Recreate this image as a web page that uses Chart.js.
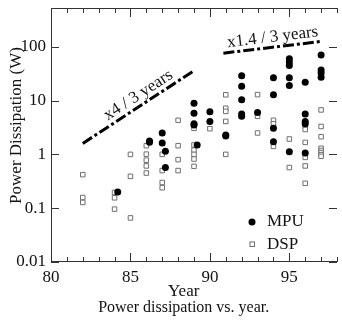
<!DOCTYPE html>
<html>
<head>
<meta charset="utf-8">
<script src="https://cdn.jsdelivr.net/npm/chart.js@4/dist/chart.umd.min.js"></script>
<style>
  html, body { margin: 0; padding: 0; background: #fff; }
</style>
</head>
<body>
<canvas id="chart" width="342" height="320"></canvas>
<script>
// MPU (filled circles)
const mpuYear  = [84.2, 86.2, 86.2, 87, 87, 87.2, 87.2, 89, 89, 89, 89, 89.2, 90, 90, 91, 91,
                  92, 92, 92, 92, 92, 93, 94, 94, 94, 94, 95, 95, 95, 95, 95, 95,
                  96, 96, 96, 96, 96, 97, 97, 97, 97];
const mpuPower = [0.2, 1.68, 1.78, 2.5, 1.62, 1.14, 0.57, 8.9, 5.8, 3.7, 3.5, 1.49, 6.2, 4.1, 2.29, 2.2,
                  29, 18.5, 10.4, 5.6, 5.1, 6.0, 26.5, 12.8, 3.05, 1.72, 60, 52, 45, 26.5, 19, 1.12,
                  22, 5.6, 4.1, 3.7, 1.06, 70, 37, 32.5, 27.2];

// DSP (open squares)
const dspYear  = [82, 82, 82, 84, 84, 84, 85, 85, 85, 86, 86, 86, 86, 86, 87, 87, 87, 87,
                  88, 88, 88, 88, 89, 89, 89, 89, 89, 89, 90, 91, 91, 91, 91, 91,
                  93, 93, 93, 94, 94, 94, 95, 95, 96, 96, 96, 96, 96, 96,
                  97, 97, 97, 97, 97, 97, 97, 97];
const dspPower = [0.42, 0.158, 0.128, 0.196, 0.156, 0.096, 1.0, 0.39, 0.066, 1.45, 1.01, 0.78, 0.61, 0.45,
                  1.0, 0.5, 0.3, 0.24, 4.3, 1.45, 0.8, 0.5, 3.05, 1.5, 1.2, 1.0, 0.82, 0.6, 3.0,
                  12.8, 7.2, 6.3, 4.1, 1.0, 12.9, 5.1, 2.5, 4.3, 3.7, 1.41, 1.93, 0.57,
                  3.4, 2.9, 1.67, 0.88, 0.61, 0.29, 6.7, 3.3, 2.13, 1.3, 1.18, 1.08, 0.99, 0.92];

// trend lines
const trend4Year   = [82, 89];
const trend4Power  = [1.6, 36];
const trend14Year  = [90.85, 96.95];
const trend14Power = [76, 125];

const xTickValues = [80, 85, 90, 95];
const yTickValues = [0.01, 0.1, 1, 10, 100];

const serif = "'Liberation Serif', 'Times New Roman', serif";
const pts = (xs, ys) => xs.map((x, i) => ({ x: x, y: ys[i] }));

// frame with inward ticks, texts, legend
const decorations = {
  id: 'decorations',
  afterDraw(chart) {
    const { ctx, chartArea: a, scales: { x, y } } = chart;
    ctx.save();
    ctx.strokeStyle = '#333';
    ctx.lineWidth = 1;
    ctx.beginPath();
    ctx.moveTo(a.right + 1, a.top + 0.5);
    ctx.lineTo(a.left + 0.5, a.top + 0.5);
    ctx.lineTo(a.left + 0.5, a.bottom - 0.5);
    ctx.lineTo(a.right + 1, a.bottom - 0.5);
    for (let yr = 80; yr <= 98; yr++) {
      const px = Math.round(x.getPixelForValue(yr)) + 0.5;
      const len = yr % 5 === 0 ? 9 : 5;
      ctx.moveTo(px, a.bottom); ctx.lineTo(px, a.bottom - len);
      ctx.moveTo(px, a.top); ctx.lineTo(px, a.top + len);
    }
    yTickValues.forEach(v => {
      const py = Math.round(y.getPixelForValue(v)) + 0.5;
      ctx.moveTo(a.left, py); ctx.lineTo(a.left + 8, py);
      ctx.moveTo(a.right, py); ctx.lineTo(a.right - 8, py);
    });
    ctx.stroke();

    ctx.fillStyle = '#111';
    ctx.textAlign = 'center';
    ctx.textBaseline = 'alphabetic';

    // axis titles and caption
    const cx = x.getPixelForValue(88.35);
    ctx.font = '17px ' + serif;
    ctx.fillText('Year', cx, 295.5);
    ctx.font = '16px ' + serif;
    ctx.fillText('Power dissipation vs. year.', cx, 312);
    ctx.save();
    ctx.translate(20.5, 125.5);
    ctx.rotate(-Math.PI / 2);
    ctx.font = '17px ' + serif;
    ctx.fillText('Power Dissipation (W)', 0, 0);
    ctx.restore();

    // trend labels, rotated along their lines
    ctx.textBaseline = 'middle';
    const label = (text, xv, yv, xs, ys) => {
      const dx = x.getPixelForValue(xs[1]) - x.getPixelForValue(xs[0]);
      const dy = y.getPixelForValue(ys[1]) - y.getPixelForValue(ys[0]);
      ctx.save();
      ctx.translate(x.getPixelForValue(xv), y.getPixelForValue(yv));
      ctx.rotate(Math.atan2(dy, dx));
      ctx.font = '17px ' + serif;
      ctx.fillText(text, 0, 0);
      ctx.restore();
    };
    label('x4 / 3 years', 85.5, 12.6, trend4Year, trend4Power);
    label('x1.4 / 3 years', 93.95, 150, trend14Year, trend14Power);

    // legend
    const lx = a.left + 201;
    ctx.beginPath();
    ctx.fillStyle = '#000';
    ctx.arc(lx, 222, 3.5, 0, Math.PI * 2);
    ctx.fill();
    ctx.strokeStyle = '#6e6e6e';
    ctx.strokeRect(lx - 2, 242, 4.5, 4.5);
    ctx.fillStyle = '#111';
    ctx.textAlign = 'left';
    ctx.font = '17px ' + serif;
    ctx.fillText(chart.data.datasets[0].label, lx + 15, 222);
    ctx.fillText(chart.data.datasets[1].label, lx + 15, 245);
    ctx.restore();
  }
};

new Chart(document.getElementById('chart'), {
  type: 'scatter',
  data: {
    datasets: [{
      label: 'MPU',
      data: pts(mpuYear, mpuPower),
      pointStyle: 'circle',
      pointRadius: 3.5,
      backgroundColor: '#000',
      borderWidth: 0
    }, {
      label: 'DSP',
      data: pts(dspYear, dspPower),
      pointStyle: 'rect',
      pointRadius: 3.2,
      backgroundColor: '#fff',
      borderColor: '#6e6e6e',
      borderWidth: 1
    }, {
      type: 'line',
      label: 'x4',
      data: pts(trend4Year, trend4Power),
      borderColor: '#000',
      borderWidth: 3,
      borderDash: [11, 3, 3, 3],
      pointRadius: 0
    }, {
      type: 'line',
      label: 'x1.4',
      data: pts(trend14Year, trend14Power),
      borderColor: '#000',
      borderWidth: 3,
      borderDash: [11, 3, 3, 3],
      pointRadius: 0
    }]
  },
  options: {
    responsive: false,
    animation: false,
    layout: { padding: { top: 8, left: 0, right: 0, bottom: 0 } },
    plugins: { legend: { display: false }, tooltip: { enabled: false } },
    scales: {
      x: {
        type: 'linear',
        min: 80,
        max: 98,
        afterBuildTicks: s => { s.ticks = xTickValues.map(v => ({ value: v })); },
        afterFit: s => { s.height = 58; s.paddingLeft = 0; s.paddingRight = 0; },
        grid: { display: false, drawTicks: false },
        border: { display: false },
        ticks: {
          font: { family: serif, size: 17 },
          color: '#111',
          padding: 5,
          maxRotation: 0,
          autoSkip: false
        }
      },
      y: {
        type: 'logarithmic',
        min: 0.01,
        max: 525,
        afterBuildTicks: s => { s.ticks = yTickValues.map(v => ({ value: v })); },
        afterFit: s => { s.width = 51; s.paddingTop = 0; s.paddingBottom = 0; },
        grid: { display: false, drawTicks: false },
        border: { display: false },
        ticks: {
          font: { family: serif, size: 17 },
          color: '#111',
          padding: 5,
          callback: v => String(v)
        }
      }
    }
  },
  plugins: [decorations]
});
</script>
</body>
</html>
